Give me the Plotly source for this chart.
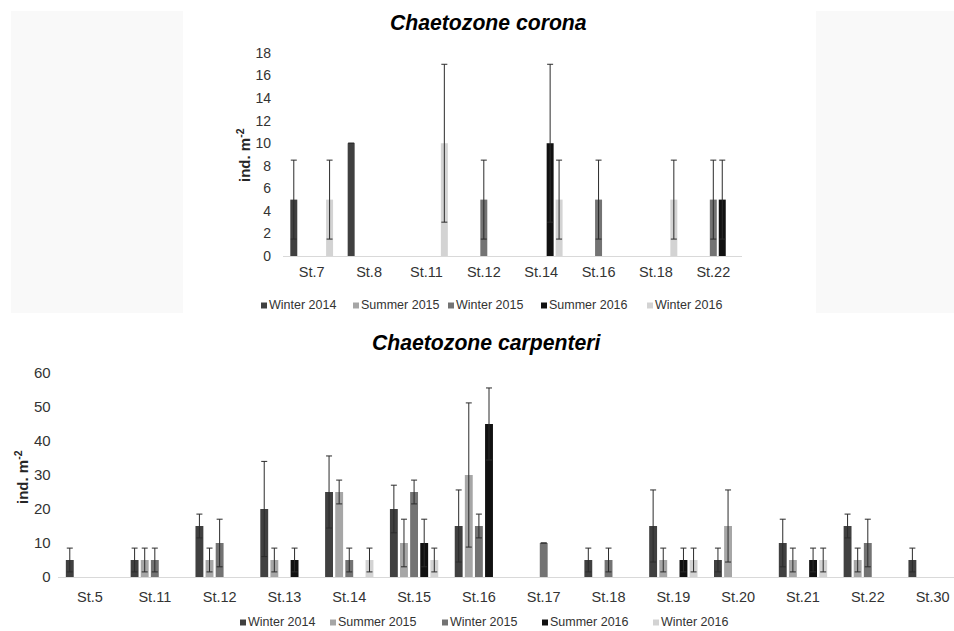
import plotly.graph_objects as go

W, H = 954, 631

series_names = ["Winter 2014", "Summer 2015", "Winter 2015", "Summer 2016", "Winter 2016"]
series_colors = ["#404040", "#a6a6a6", "#737373", "#111111", "#d3d3d3"]

# --- Chaetozone corona ---
top_categories = ["St.7", "St.8", "St.11", "St.12", "St.14", "St.16", "St.18", "St.22"]
top_w14 = [5, 10, None, None, None, None, None, None]
top_w14_err = [3.5, 0, 0, 0, 0, 0, 0, 0]
top_s15 = [None, None, None, None, None, None, None, None]
top_s15_err = [0, 0, 0, 0, 0, 0, 0, 0]
top_w15 = [None, None, None, 5, None, 5, None, 5]
top_w15_err = [0, 0, 0, 3.5, 0, 3.5, 0, 3.5]
top_s16 = [None, None, None, None, 10, None, None, 5]
top_s16_err = [0, 0, 0, 0, 7, 0, 0, 3.5]
top_w16 = [5, None, 10, None, 5, None, 5, None]
top_w16_err = [3.5, 0, 7, 0, 3.5, 0, 3.5, 0]
top_ticks = [0, 2, 4, 6, 8, 10, 12, 14, 16, 18]

# --- Chaetozone carpenteri ---
bot_categories = ["St.5", "St.11", "St.12", "St.13", "St.14", "St.15", "St.16",
                  "St.17", "St.18", "St.19", "St.20", "St.21", "St.22", "St.30"]
bot_w14 = [5, 5, 15, 20, 25, 20, 15, None, 5, 15, 5, 10, 15, 5]
bot_w14_err = [3.5, 3.5, 3.5, 14, 10.6, 7, 10.6, 0, 3.5, 10.6, 3.5, 7, 3.5, 3.5]
bot_s15 = [None, 5, 5, 5, 25, 10, 30, None, None, 5, 15, 5, 5, None]
bot_s15_err = [0, 3.5, 3.5, 3.5, 3.5, 7, 21.2, 0, 0, 3.5, 10.6, 3.5, 3.5, 0]
bot_w15 = [None, 5, 10, None, 5, 25, 15, 10, 5, None, None, None, 10, None]
bot_w15_err = [0, 3.5, 7, 0, 3.5, 3.5, 3.5, 0, 3.5, 0, 0, 0, 7, 0]
bot_s16 = [None, None, None, 5, None, 10, 45, None, None, 5, None, 5, None, None]
bot_s16_err = [0, 0, 0, 3.5, 0, 7, 10.6, 0, 0, 3.5, 0, 3.5, 0, 0]
bot_w16 = [None, None, None, None, 5, 5, None, None, None, 5, None, 5, None, None]
bot_w16_err = [0, 0, 0, 0, 3.5, 3.5, 0, 0, 0, 3.5, 0, 3.5, 0, 0]
bot_ticks = [0, 10, 20, 30, 40, 50, 60]

top_vals = [top_w14, top_s15, top_w15, top_s16, top_w16]
top_errs = [top_w14_err, top_s15_err, top_w15_err, top_s16_err, top_w16_err]
bot_vals = [bot_w14, bot_s15, bot_w15, bot_s16, bot_w16]
bot_errs = [bot_w14_err, bot_s15_err, bot_w15_err, bot_s16_err, bot_w16_err]

FONT = "Liberation Sans, Arial, sans-serif"
err_style = dict(type="data", color="#2b2b2b", thickness=1, width=3)

fig = go.Figure()
for name, color, vals, errs in zip(series_names, series_colors, top_vals, top_errs):
    fig.add_trace(go.Bar(x=top_categories, y=vals, name=name, marker_color=color,
                         marker_line_width=0, error_y=dict(array=errs, **err_style),
                         xaxis="x", yaxis="y", showlegend=False))
for name, color, vals, errs in zip(series_names, series_colors, bot_vals, bot_errs):
    fig.add_trace(go.Bar(x=bot_categories, y=vals, name=name, marker_color=color,
                         marker_line_width=0, error_y=dict(array=errs, **err_style),
                         xaxis="x2", yaxis="y2", showlegend=False))


def px_x(v):
    return v / W


def px_y(v):
    return 1 - v / H


xtickfont = dict(family=FONT, size=14.5, color="#333333")
ytickfont_top = dict(family=FONT, size=14, color="#333333")
ytickfont_bot = dict(family=FONT, size=15, color="#333333")

shapes = [
    dict(type="rect", xref="paper", yref="paper", x0=px_x(11), x1=px_x(183),
         y0=px_y(313), y1=px_y(11), fillcolor="#f9f9f9", line_width=0, layer="below"),
    dict(type="rect", xref="paper", yref="paper", x0=px_x(816), x1=1.0,
         y0=px_y(313), y1=px_y(11), fillcolor="#f9f9f9", line_width=0, layer="below"),
]
annotations = [
    dict(text="<b><i>Chaetozone corona</i></b>", xref="paper", yref="paper",
         x=px_x(488), y=px_y(22), xanchor="center", yanchor="middle", showarrow=False,
         font=dict(family=FONT, size=21.2, color="#000000")),
    dict(text="<b><i>Chaetozone carpenteri</i></b>", xref="paper", yref="paper",
         x=px_x(487), y=px_y(343), xanchor="center", yanchor="middle", showarrow=False,
         font=dict(family=FONT, size=21.2, color="#000000")),
    dict(text="<b>ind. m<sup>-2</sup></b>", xref="paper", yref="paper",
         x=px_x(243), y=px_y(155), xanchor="center", yanchor="middle", showarrow=False,
         textangle=-90, font=dict(family=FONT, size=15, color="#262626")),
    dict(text="<b>ind. m<sup>-2</sup></b>", xref="paper", yref="paper",
         x=px_x(21), y=px_y(477), xanchor="center", yanchor="middle", showarrow=False,
         textangle=-90, font=dict(family=FONT, size=15, color="#262626")),
]

# custom legends (small square + label), one per panel
top_legend_x = [261, 353, 448, 541, 647]
top_legend_y = 305
bot_legend_x = [240, 330, 442, 542, 653]
bot_legend_y = 622
for lx_list, ly in ((top_legend_x, top_legend_y), (bot_legend_x, bot_legend_y)):
    for name, color, lx in zip(series_names, series_colors, lx_list):
        shapes.append(dict(type="rect", xref="paper", yref="paper",
                           x0=px_x(lx), x1=px_x(lx + 6), y0=px_y(ly + 3.5), y1=px_y(ly - 2.5),
                           fillcolor=color, line_width=0))
        annotations.append(dict(text=name, xref="paper", yref="paper",
                                x=px_x(lx + 7), y=px_y(ly), xanchor="left", yanchor="middle",
                                showarrow=False, borderpad=0,
                                font=dict(family=FONT, size=12.5, color="#333333")))

fig.update_layout(
    width=W, height=H,
    margin=dict(l=0, r=0, t=0, b=0, autoexpand=False),
    paper_bgcolor="white", plot_bgcolor="rgba(0,0,0,0)",
    barmode="group", bargap=0.22, bargroupgap=0.22,
    font=dict(family=FONT, size=13, color="#333333"),
    showlegend=False,
    xaxis=dict(domain=[px_x(283), px_x(742)], anchor="y", type="category",
               range=[-0.5, len(top_categories) - 0.5], automargin=False,
               showline=True, linecolor="#d9d9d9", linewidth=1, showgrid=False,
               ticks="", tickfont=xtickfont, ticklabelstandoff=3),
    yaxis=dict(domain=[px_y(256), px_y(53)], anchor="x", range=[0, 18], automargin=False,
               tickvals=top_ticks, showgrid=False, zeroline=False, showline=False,
               ticks="", tickfont=ytickfont_top, ticklabelstandoff=11),
    xaxis2=dict(domain=[px_x(57.6), 1.0], anchor="y2", type="category",
                range=[-0.5, 13.33], automargin=False,
                showline=True, linecolor="#d9d9d9", linewidth=1, showgrid=False,
                ticks="", tickfont=xtickfont, ticklabelstandoff=7),
    yaxis2=dict(domain=[px_y(577), px_y(373)], anchor="x2", range=[0, 60], automargin=False,
                tickvals=bot_ticks, showgrid=False, zeroline=False, showline=False,
                ticks="", tickfont=ytickfont_bot, ticklabelstandoff=6),
    shapes=shapes,
    annotations=annotations,
)

fig.write_html("out.html", config={"displayModeBar": False},
               post_script="document.body.style.margin='0';document.body.style.overflow='hidden';")
